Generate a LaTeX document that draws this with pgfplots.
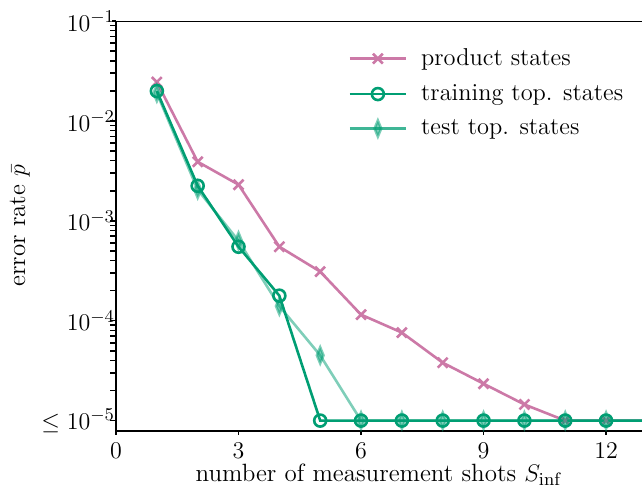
\documentclass[border=0pt]{standalone}
\usepackage{pgfplots}
\pgfplotsset{compat=1.18}
\definecolor{pinkc}{HTML}{CC79A7}
\definecolor{greenc}{HTML}{009E73}
\begin{document}
\begin{tikzpicture}
\begin{axis}[
  scale only axis,
  width=263pt, height=204.8pt,
  xmin=0, xmax=12.88,
  ymode=log, ymin=7.94e-6, ymax=1e-1,
  axis x line*=bottom, axis y line*=left,
  axis line style={line width=1pt, black},
  xtick={0,3,6,9,12},
  ytick={1e-5,1e-4,1e-3,1e-2,1e-1},
  yticklabels={$\leq 10^{-5}$,$10^{-4}$,$10^{-3}$,$10^{-2}$,$10^{-1}$},
  minor ytick={},
  tick align=outside,
  major tick length=2pt,
  tick style={line width=0.8pt, black},
  ticklabel style={font=\fontsize{12.8}{15}\selectfont},
  yticklabel style={xshift=5pt},
  xticklabel style={yshift=-0.5pt},
  xlabel={number of measurement shots $S_{\mathrm{inf}}$},
  ylabel={error rate $\bar{p}$},
  label style={font=\fontsize{12.5}{14}\selectfont},
  xlabel style={yshift=4pt},
  ylabel style={yshift=-1pt},
  legend style={draw=none, fill=none, at={(0.43,0.953)}, anchor=north west,
    font=\fontsize{12.2}{14}\selectfont, row sep=4pt},
  legend cell align=left,
  legend image code/.code={\draw[#1] (0pt,0pt) -- (28pt,0pt); \draw[#1, mark repeat=2, mark phase=2] plot coordinates {(0pt,0pt) (14pt,0pt) (28pt,0pt)}; \path (33pt,0pt);},
]
\addplot[pinkc, line width=1.3pt, mark=x, mark size=3.5pt] coordinates {
(1,0.0245) (2,0.0039) (3,0.0023) (4,5.5e-4) (5,3.1e-4) (6,1.15e-4) (7,7.6e-5)
(8,3.8e-5) (9,2.34e-5) (10,1.45e-5) (11,1e-5) (12,1e-5) (13,1e-5)};
\addlegendentry{product states}
\addplot[greenc, line width=1.3pt, mark=o, mark size=3pt, mark options={fill=none}] coordinates {
(1,0.0199) (2,0.00224) (3,5.5e-4) (4,1.78e-4) (5,1e-5) (6,1e-5) (7,1e-5)
(8,1e-5) (9,1e-5) (10,1e-5) (11,1e-5) (12,1e-5) (13,1e-5)};
\addlegendentry{training top. states}
\addplot[greenc, opacity=0.5, line width=1.3pt, mark=diamond*, mark size=4pt, mark options={xscale=0.55, draw=none}] coordinates {
(1,0.019) (2,0.00205) (3,6.3e-4) (4,1.4e-4) (5,4.5e-5) (6,1e-5) (7,1e-5)
(8,1e-5) (9,1e-5) (10,1e-5) (11,1e-5) (12,1e-5) (13,1e-5)};
\addlegendentry{test top. states}
\draw[line width=1pt, black] (rel axis cs:0,1) -- (rel axis cs:1,1);
\coordinate (sw) at (rel axis cs:0,0);
\coordinate (ne) at (rel axis cs:1,1);
\end{axis}
\pgfresetboundingbox
\path[use as bounding box] ([shift={(-58pt,-28pt)}]sw) rectangle ([shift={(0pt,10.5pt)}]ne);
\end{tikzpicture}
\end{document}
